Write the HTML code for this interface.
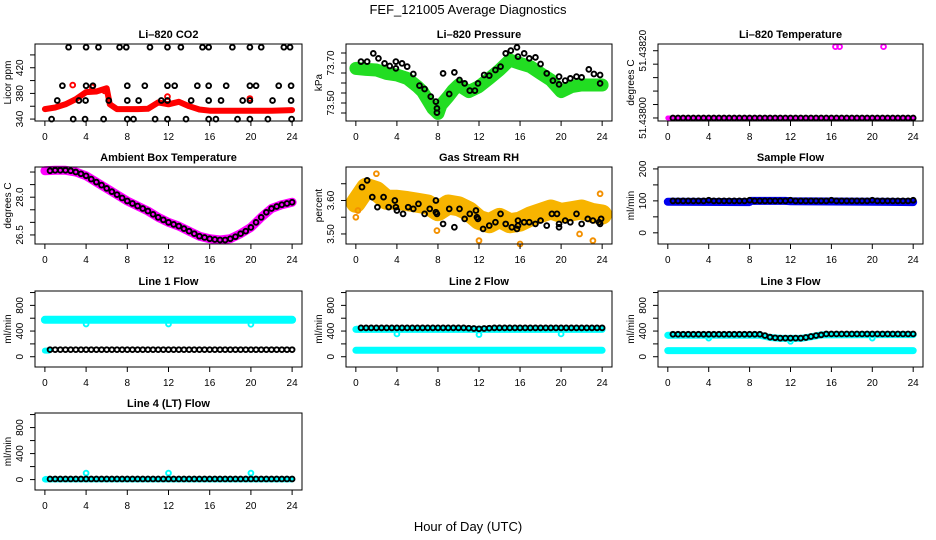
<!DOCTYPE html>
<html><head><meta charset="utf-8"><style>
body{margin:0;background:#fff}
svg{display:block;font-family:"Liberation Sans",sans-serif}
</style></head><body>
<svg id="chart" width="936" height="540" viewBox="0 0 936 540" xmlns="http://www.w3.org/2000/svg">
<rect width="936" height="540" fill="#fff"/>
<text x="468" y="14" text-anchor="middle" font-size="13">FEF_121005  Average Diagnostics</text>
<text x="468" y="531" text-anchor="middle" font-size="13">Hour of Day (UTC)</text>
</svg>
<script>
const HH=[0.5,1,1.5,2,2.5,3,3.5,4,4.5,5,5.5,6,6.5,7,7.5,8,8.5,9,9.5,10,10.5,11,11.5,12,12.5,13,13.5,14,14.5,15,15.5,16,16.5,17,17.5,18,18.5,19,19.5,20,20.5,21,21.5,22,22.5,23,23.5,24];
const HOURS=[0,1,2,3,4,5,6,7,8,9,10,11,12,13,14,15,16,17,18,19,20,21,22,23,24];
const xTicks=[0,4,8,12,16,20,24];

// CO2
const co2BandX=[0,1,2,3,4,5,6,6.3,7,8,9,10,11,12,13,14,15,16,18,20,22,24];
const co2BandY=[355.5,358,363,371,382,383,388,363,355.5,355.5,355.5,356,366,363,367,360,355,353,353,353,353,354];
const co2RedX=[2.7,11.9,19.9,4.6,5.8];
const co2RedY=[393,375,372,390,384];
const co2BlackX=[2.3,4.0,5.2,7.25,7.9,10.2,11.9,13.2,15.3,15.9,18.2,19.9,21.0,23.2,23.8, 1.7,4.0,4.66,8.0,9.7,11.9,12.6,14.8,15.9,17.6,19.9,20.5,22.7,23.9, 1.2,3.3,3.95,6.2,8.0,9.1,11.3,11.9,14.2,15.9,17.1,19.2,19.9,22.1,23.9, 0.65,2.75,3.9,5.7,8.0,8.6,10.7,11.9,13.7,15.9,16.6,18.7,19.9,21.65,23.95];
const co2BlackY=[452,452,452,452,452,452,452,452,452,452,452,452,452,452,452, 392,392,392,392,392,392,392,392,392,392,392,392,392,392, 369,369,369,369,369,369,369,369,369,369,369,369,369,369,369, 340,340,340,340,340,340,340,340,340,340,340,340,340,340,340];

// Pressure
const prBandX=[0,1,2,3,4,5,6,6.5,7,7.5,8,8.3,9,9.5,10,11,12,13,14,15,16,17,18,19,20,21,22,23,24];
const prBandY=[73.673,73.668,73.665,73.648,73.64,73.623,73.582,73.557,73.515,73.473,73.448,73.49,73.532,73.565,73.59,73.557,73.582,73.623,73.665,73.715,73.698,73.682,73.648,73.615,73.557,73.582,73.59,73.59,73.59];
const prBlackX=[0.5,1.1,1.7,2.2,2.8,3.3,3.9,3.9,4.5,5.0,5.6,6.2,6.7,7.3,7.8,7.9,7.9,8.5,9.1,9.6,10.1,10.6,11.1,11.6,11.9,12.5,13.0,13.6,14.1,14.6,15.1,15.7,15.8,16.4,16.9,17.5,18.0,18.6,19.2,19.8,19.8,20.4,20.9,21.5,22.0,22.7,23.2,23.8,23.8];
const prBlackY=[73.707,73.707,73.748,73.723,73.698,73.685,73.707,73.673,73.698,73.682,73.645,73.587,73.57,73.532,73.507,73.473,73.452,73.648,73.545,73.653,73.615,73.598,73.562,73.562,73.598,73.64,73.637,73.665,73.682,73.748,73.762,73.778,73.732,73.748,73.723,73.728,73.695,73.648,73.612,73.593,73.632,73.612,73.623,73.632,73.628,73.668,73.645,73.64,73.598];

// Li-820 temperature
const tpBandX=[0,24];
const tpBandY=[51.438,51.438];
const tpOutX=[16.4,16.8,21.1];
const tpOutY=[51.438212,51.438212,51.438212];
const tpBlack=[51.438,51.438,51.438,51.438,51.438,51.438,51.438,51.438,51.438,51.438,51.438,51.438,51.438,51.438,51.438,51.438,51.438,51.438,51.438,51.438,51.438,51.438,51.438,51.438,51.438,51.438,51.438,51.438,51.438,51.438,51.438,51.438,51.438,51.438,51.438,51.438,51.438,51.438,51.438,51.438,51.438,51.438,51.438,51.438,51.438,51.438,51.438,51.438];

// Ambient box temperature
const ambBand=[29.05,29.07,29.07,29.0,28.85,28.6,28.35,28.1,27.85,27.65,27.45,27.2,27.0,26.85,26.65,26.45,26.35,26.3,26.35,26.55,26.8,27.2,27.55,27.7,27.8];
const ambBlack=[29.05,29.07,29.07,29.07,29.05,29.0,28.93,28.85,28.72,28.6,28.48,28.35,28.22,28.1,27.97,27.85,27.75,27.65,27.55,27.45,27.32,27.2,27.1,27.0,26.92,26.85,26.75,26.65,26.55,26.45,26.4,26.35,26.32,26.3,26.3,26.35,26.43,26.55,26.65,26.8,27.0,27.2,27.4,27.55,27.63,27.7,27.75,27.8];

// Gas stream RH
const rhBand=[3.593,3.638,3.628,3.602,3.602,3.598,3.593,3.588,3.568,3.588,3.583,3.568,3.542,3.532,3.548,3.532,3.537,3.552,3.563,3.573,3.563,3.568,3.573,3.563,3.558];
const rhOutX=[0,2,23.8,16,23.1,21.8,0.2,7.9,12];
const rhOutY=[3.55,3.68,3.62,3.47,3.48,3.50,3.57,3.51,3.48];
const rhBlackX=[0.6,1.1,1.6,2.1,2.7,3.2,3.8,3.9,4.0,4.6,5.1,5.6,6.1,6.7,7.2,7.8,7.8,7.9,8.5,9.1,9.6,10.1,10.6,11.1,11.7,11.8,11.9,12.4,13.0,13.6,14.1,14.6,15.2,15.7,15.8,15.8,16.4,16.9,17.5,18.0,18.6,19.1,19.6,19.8,19.8,20.4,20.9,21.5,22.0,22.6,23.1,23.7,23.9,23.8];
const rhBlackY=[3.64,3.66,3.61,3.58,3.61,3.58,3.60,3.58,3.57,3.56,3.58,3.575,3.59,3.56,3.575,3.60,3.565,3.56,3.53,3.575,3.52,3.575,3.545,3.56,3.57,3.55,3.545,3.515,3.525,3.535,3.56,3.53,3.52,3.515,3.54,3.525,3.535,3.535,3.53,3.54,3.525,3.56,3.56,3.53,3.52,3.54,3.535,3.56,3.53,3.545,3.54,3.535,3.545,3.53];

// Sample flow
const sfBandX=[0,8,8.1,11.5,12,16,24];
const sfBandY=[97,96,100,100,99,98,96];
const sfBlack=[100,100,100,100,100,100,100,102,100,100,100,100,100,100,100,102,100,100,100,100,100,100,100,102,100,100,100,100,100,100,100,102,100,100,100,100,100,100,100,102,100,100,100,100,100,100,100,102];

// Line flows
const l1UpX=[0,24], l1UpY=[575,575];
const l1LowX=[0,0.4], l1LowY=[95,95];
const l1DipX=[4,12,20], l1DipY=[510,510,505];
const l1Black=[110,110,110,110,110,110,110,110,110,110,110,110,110,110,110,110,110,110,110,110,110,110,110,110,110,110,110,110,110,110,110,110,110,110,110,110,110,110,110,110,110,110,110,110,110,110,110,110];

const l2UpX=[0,24], l2UpY=[425,425];
const l2LowX=[0,24], l2LowY=[100,100];
const l2DipX=[0.1,4,12,20], l2DipY=[430,355,345,355];
const l2Black=[450,450,450,450,450,450,450,450,450,450,450,450,450,450,450,450,450,450,450,450,450,445,440,435,440,445,450,450,450,450,450,450,450,450,450,450,450,450,450,450,450,450,450,450,450,450,450,450];

const l3UpX=[0,9,10,11,13,14,15,24], l3UpY=[335,335,300,285,285,310,340,345];
const l3LowX=[0,24], l3LowY=[95,95];
const l3DipX=[0.1,4,12,20], l3DipY=[330,290,240,290];
const l3Black=[350,350,350,350,350,350,350,350,350,350,350,350,350,350,350,350,350,350,330,305,295,290,290,290,290,290,300,315,330,340,355,355,355,355,355,355,355,355,355,355,355,355,355,355,355,355,355,355];

const l4UpX=[0,24], l4UpY=[3,3];
const l4DipX=[0.1,4,12,20], l4DipY=[5,100,100,100];
const l4Black=[10,10,10,10,10,10,10,10,10,10,10,10,10,10,10,10,10,10,10,10,10,10,10,10,10,10,10,10,10,10,10,10,10,10,10,10,10,10,10,10,10,10,10,10,10,10,10,10];

const NS='http://www.w3.org/2000/svg';
const svg=document.getElementById('chart');
function mk(tag,attrs,parent){const e=document.createElementNS(NS,tag);for(const k in attrs)e.setAttribute(k,attrs[k]);(parent||svg).appendChild(e);return e;}

const cols=[[35,302],[346,612],[658,923]];
const rows=[[44,121],[167,244],[291,367],[413,490]];

function panel(o){
  const [L,R]=cols[o.c],[T,B]=rows[o.r];
  const g=mk('g',{});
  
  
  const x0=-0.96,x1=24.96;
  const sx=v=>L+(v-x0)/(x1-x0)*(R-L);
  const sy=v=>B-(v-o.y0)/(o.y1-o.y0)*(B-T);
  const t=mk('text',{x:(L+R)/2,y:T-6,'text-anchor':'middle','font-size':11,'font-weight':'bold'},g);
  t.textContent=o.title;
  
  
  const plot=mk('g',{},g);
  
  
  const box=mk('rect',{x:L,y:T,width:R-L,height:B-T,fill:'none',stroke:'#000','stroke-width':1},g);
  
  
  const xa=mk('g',{},g);
  
  
  mk('line',{x1:sx(0),x2:sx(24),y1:B,y2:B,stroke:'#000'},xa);
  xTicks.forEach(v=>{
    mk('line',{x1:sx(v),x2:sx(v),y1:B,y2:B+5,stroke:'#000'},xa);
    const l=mk('text',{x:sx(v),y:B+19,'text-anchor':'middle','font-size':10},xa);
    l.textContent=v;
    
    
  });
  const ya=mk('g',{},g);
  
  
  const tk=o.ticks;
  mk('line',{x1:L,x2:L,y1:sy(tk[0]),y2:sy(tk[tk.length-1]),stroke:'#000'},ya);
  tk.forEach(v=>mk('line',{x1:L-5,x2:L,y1:sy(v),y2:sy(v),stroke:'#000'},ya));
  o.labels.forEach((v,i)=>{
    const xx=L-12,yy=sy(v);
    const l=mk('text',{x:xx,y:yy,'text-anchor':'middle','font-size':10,transform:`rotate(-90 ${xx} ${yy})`},ya);
    l.textContent=o.labelText[i];
    
    
  });
  const yl=mk('text',{x:L-24,y:(T+B)/2,'text-anchor':'middle','font-size':10,transform:`rotate(-90 ${L-24} ${(T+B)/2})`},ya);
  yl.textContent=o.ylab;
  
  
  return {sx,sy,plot};
}
function band(p,xs,ys,color,w,name){
  const pts=xs.map((x,i)=>p.sx(x).toFixed(1)+','+p.sy(ys[i]).toFixed(1)).join(' ');
  const e=mk('polyline',{points:pts,fill:'none',stroke:color,'stroke-width':w,'stroke-linejoin':'round','stroke-linecap':'round'},p.plot);
  
  
}
function pts(p,xs,ys,color,name,r){
  xs.forEach((x,i)=>{
    const c=mk('circle',{cx:p.sx(x),cy:p.sy(ys[i]),r:r||2.4,fill:'none',stroke:color,'stroke-width':1.9},p.plot);
    
    
  });
}
const flowCfg={y0:-160,y1:1024,ticks:[0,200,400,600,800,1000],labels:[0,400,800],labelText:['0','400','800'],ylab:'ml/min'};

let p=panel({c:0,r:0,name:'co2-panel',title:'Li\u2013820 CO2',y0:337,y1:457,ticks:[340,360,380,400,420,440],labels:[340,380,420],labelText:['340','380','420'],ylab:'Licor ppm'});
band(p,co2BandX,co2BandY,'#ff0000',6,'co2-band');
pts(p,co2RedX,co2RedY,'#ff0000','co2-red-point');
pts(p,co2BlackX,co2BlackY,'#000','co2-average-point');

p=panel({c:1,r:0,name:'pressure-panel',title:'Li\u2013820 Pressure',y0:73.41,y1:73.795,ticks:[73.45,73.5,73.55,73.6,73.65,73.7,73.75],labels:[73.5,73.7],labelText:['73.50','73.70'],ylab:'kPa'});
band(p,prBandX,prBandY,'#22dd22',13,'pressure-band');
pts(p,prBlackX,prBlackY,'#000','pressure-average-point');

p=panel({c:2,r:0,name:'li820-temperature-panel',title:'Li\u2013820 Temperature',y0:51.437991,y1:51.43822,ticks:[51.438,51.43804,51.43808,51.43812,51.43816,51.4382],labels:[51.438,51.4382],labelText:['51.43800','51.43820'],ylab:'degrees C'});
band(p,tpBandX,tpBandY,'#ff00ff',5,'temperature-band');
pts(p,tpOutX,tpOutY,'#ff00ff','temperature-outlier');
pts(p,HH,tpBlack,'#000','temperature-average-point');

p=panel({c:0,r:1,name:'ambient-temperature-panel',title:'Ambient Box Temperature',y0:26.14,y1:29.2,ticks:[26.5,27,27.5,28,28.5,29],labels:[26.5,28],labelText:['26.5','28.0'],ylab:'degrees C'});
band(p,HOURS,ambBand,'#ff00ff',9,'ambient-band');
pts(p,HH,ambBlack,'#000','ambient-average-point');

p=panel({c:1,r:1,name:'rh-panel',title:'Gas Stream RH',y0:3.47,y1:3.70,ticks:[3.5,3.55,3.6,3.65],labels:[3.5,3.6],labelText:['3.50','3.60'],ylab:'percent'});
band(p,HOURS,rhBand,'#f7b400',20,'rh-band');
pts(p,rhOutX,rhOutY,'#f39000','rh-outlier');
pts(p,rhBlackX,rhBlackY,'#000','rh-average-point');

p=panel({c:2,r:1,name:'sample-flow-panel',title:'Sample Flow',y0:-35,y1:206,ticks:[0,50,100,150,200],labels:[0,100,200],labelText:['0','100','200'],ylab:'ml/min'});
band(p,sfBandX,sfBandY,'#0000ee',8,'sample-flow-band');
pts(p,HH,sfBlack,'#000','sample-flow-average-point');

p=panel(Object.assign({c:0,r:2,name:'line1-flow-panel',title:'Line 1 Flow'},flowCfg));
band(p,l1UpX,l1UpY,'#00ffff',8,'line1-upper-band');
band(p,l1LowX,l1LowY,'#00ffff',6,'line1-lower-band');
pts(p,l1DipX,l1DipY,'#00ffff','line1-dip');
pts(p,HH,l1Black,'#000','line1-average-point');

p=panel(Object.assign({c:1,r:2,name:'line2-flow-panel',title:'Line 2 Flow'},flowCfg));
band(p,l2UpX,l2UpY,'#00ffff',7,'line2-upper-band');
band(p,l2LowX,l2LowY,'#00ffff',7,'line2-lower-band');
pts(p,l2DipX,l2DipY,'#00ffff','line2-dip');
pts(p,HH,l2Black,'#000','line2-average-point');

p=panel(Object.assign({c:2,r:2,name:'line3-flow-panel',title:'Line 3 Flow'},flowCfg));
band(p,l3UpX,l3UpY,'#00ffff',7,'line3-upper-band');
band(p,l3LowX,l3LowY,'#00ffff',7,'line3-lower-band');
pts(p,l3DipX,l3DipY,'#00ffff','line3-dip');
pts(p,HH,l3Black,'#000','line3-average-point');

p=panel(Object.assign({c:0,r:3,name:'line4-flow-panel',title:'Line 4 (LT) Flow'},flowCfg));
band(p,l4UpX,l4UpY,'#00ffff',6,'line4-band');
pts(p,l4DipX,l4DipY,'#00ffff','line4-spike');
pts(p,HH,l4Black,'#000','line4-average-point');
</script>
</body></html>
